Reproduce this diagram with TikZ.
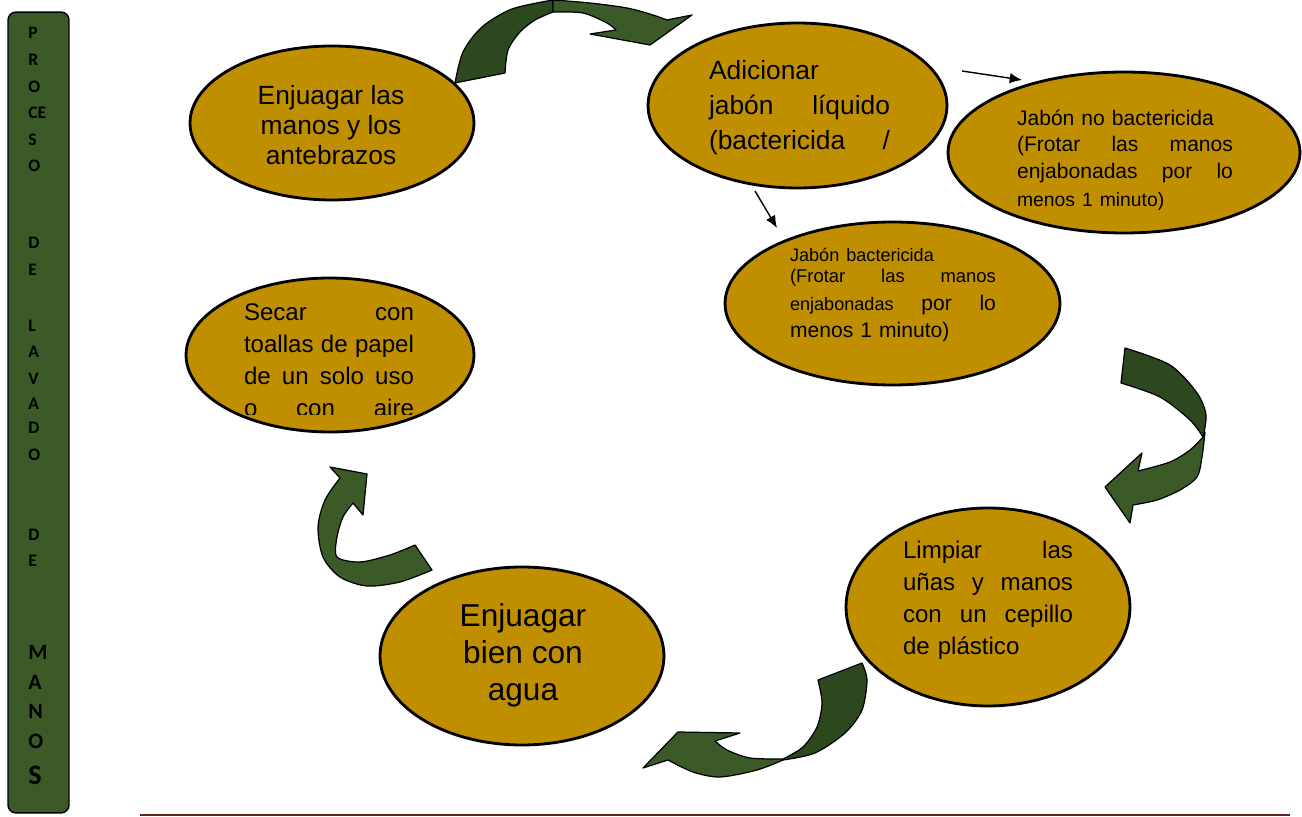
\documentclass[tikz,border=0pt]{standalone}
\usepackage{fontspec}
\setmainfont{Liberation Sans}
\newfontfamily\barfont{Carlito}
\usepackage{xcolor}
\usepackage{tikz}
\usetikzlibrary{positioning,arrows.meta,shapes.geometric}
\definecolor{oro}{HTML}{BF8F00}
\definecolor{verde}{HTML}{3B5A27}
\definecolor{verdeosc}{HTML}{2D481F}
\definecolor{vino}{HTML}{622423}

\begin{document}
\begin{tikzpicture}[x=0.02cm, y=-0.02cm,
  elip/.style={ellipse, draw=black, line width=1.6pt, fill=oro, inner sep=0pt},
  txt/.style={inner sep=0pt, align=left, text=black},
  letra/.style={anchor=west, inner sep=0pt, font=\barfont\bfseries\fontsize{10}{10}\selectfont},
  cinta/.style={fill=verde, draw=black, line width=0.7pt, line join=round},
  cintaosc/.style={cinta, fill=verdeosc},
  arr/.style={-{Latex[length=7pt,width=6pt]}, line width=0.8pt}]
\useasboundingbox (0,0) rectangle (1302,817);
% side bar
\node[draw=black, line width=0.8pt, fill=verde, rounded corners=4.5pt, inner sep=0pt,
  minimum width=1.22cm, minimum height=16.02cm] (barra) at (38.5,412.5) {};
\foreach \l/\y in {P/33,R/60,O/87,CE/113,S/140,O/166,D/243,E/270,L/326,A/352,V/379,A/404,D/428,O/455,D/535,E/561}
  \node[letra] (l\y) at (28,\y) {\l};
\foreach \l/\y in {M/652,A/682,N/711,O/741}
  \node[letra, font=\barfont\bfseries\fontsize{12.5}{12}\selectfont] (l\y) at (28,\y) {\l};
\node[letra, font=\barfont\bfseries\fontsize{16}{16}\selectfont] (l775) at (28,775) {S};
% curved arrows
\filldraw[cintaosc] plot[smooth] coordinates {(455,83) (463,52) (482,27) (512,9) (553,0)}
  -- plot[smooth] coordinates {(553,12) (535,20) (520,32) (508,50) (505,73)} -- cycle;
\filldraw[cinta] plot[smooth] coordinates {(553,0) (590,3) (627,8) (653,15) (667,20)}
  -- (692,15) -- (650,45) -- (590,34) -- (616,30)
  -- plot[smooth] coordinates {(616,30) (607,23) (583,13) (553,12)} -- cycle;
\filldraw[cintaosc] plot[smooth] coordinates {(1125,348) (1170,365) (1197,393) (1206,415) (1203,437)}
  -- plot[smooth] coordinates {(1203,437) (1190,420) (1160,397) (1121,383)} -- cycle;
\filldraw[cinta] plot[smooth] coordinates {(1203,437) (1190,450) (1170,462) (1138,471)}
  -- (1142,453) -- (1105,487) -- (1130,523) -- (1133,505)
  -- plot[smooth] coordinates {(1133,505) (1157,500) (1180,490) (1197,477) (1202,457) (1205,432)} -- cycle;
\filldraw[cintaosc] (818,680) -- (862,663)
  -- plot[smooth] coordinates {(862,663) (867,680) (862,710) (845,733) (815,753) (783,760)}
  -- plot[smooth] coordinates {(783,759) (803,747) (817,727) (822,703) (818,680)} -- cycle;
\filldraw[cinta] plot[smooth] coordinates {(783,759) (750,758) (727,750) (715,741)}
  -- (740,733) -- (678,732) -- (643,768) -- (668,760)
  -- plot[smooth] coordinates {(668,760) (693,772) (720,777) (757,770) (783,760)} -- cycle;
\filldraw[cinta] (340,478) -- (330,467) -- (367,474) -- (363,515) -- (353,503)
  -- plot[smooth] coordinates {(353,503) (343,517) (337,537) (337,557) (360,562) (390,555) (415,545)}
  -- (432,570)
  -- plot[smooth] coordinates {(432,570) (400,582) (367,586) (340,577) (323,557) (318,527) (325,500) (340,478)} -- cycle;
% ellipses
\node[elip, minimum width=5.68cm, minimum height=3.08cm] (enjmanos) at (332,123) {};
\node[elip, minimum width=5.98cm, minimum height=3.3cm] (adic) at (797.5,105.5) {};
\node[elip, minimum width=6.7cm, minimum height=3.26cm] (bact) at (892.5,303.5) {};
\node[elip, minimum width=7.04cm, minimum height=3.22cm] (nobact) at (1124,152.5) {};
\node[elip, minimum width=5.68cm, minimum height=3.96cm] (limpiar) at (988,607) {};
\node[elip, minimum width=5.68cm, minimum height=3.56cm] (enjagua) at (522,656) {};
\node[elip, minimum width=5.76cm, minimum height=3.08cm] (secar) at (330,355) {};
% texts
\node[txt, align=center, font=\fontsize{15}{17}\selectfont] (tenjmanos) at (331,125)
  {Enjuagar las\\ manos y los\\ antebrazos};
\node[txt, text width=3.62cm, font=\fontsize{15}{20}\selectfont] (tadic) at (799.5,108)
  {Adicionar\\ jabón\hfill líquido\\ (bactericida\hfill /};
\node[txt, text width=4.32cm, font=\fontsize{12}{15}\selectfont] (tnobact) at (1125,160)
  {Jabón no bactericida\\ (Frotar\hfill las\hfill manos\\ enjabonadas\hfill por\hfill lo\\[1pt]
   {\fontsize{11}{13}\selectfont menos 1 minuto)}};
\node[txt, text width=4.12cm, font=\fontsize{12}{15.4}\selectfont] (tbact) at (893,295)
  {{\fontsize{10.3}{12}\selectfont Jabón bactericida}\\[-3.4pt]
   {\fontsize{10.5}{12}\selectfont (Frotar\hfill las\hfill manos}\\
   {\fontsize{10.3}{12}\selectfont enjabonadas}\hfill por\hfill lo\\ menos 1 minuto)};
\node[txt, text width=3.4cm, font=\fontsize{13.7}{18.2}\selectfont] (tlimpiar) at (988,600)
  {Limpiar\hfill las\\ uñas\hfill y\hfill manos\\ con\hfill un\hfill cepillo\\ de plástico};
\node[txt, align=center, font=\fontsize{18}{21}\selectfont] (tenjagua) at (523,655)
  {Enjuagar\\ bien con\\ agua};
\begin{scope}
  \clip (200,290) rectangle (470,415);
  \node[txt, text width=3.4cm, font=\fontsize{13.7}{18.2}\selectfont] (tsecar) at (329,360)
    {Secar\hfill con\\ toallas\hfill de\hfill papel\\ de\hfill un\hfill solo\hfill uso\\ o\hfill con\hfill aire};
\end{scope}
% small arrows to the two kinds of soap
\coordinate (fa1) at (962,71);
\coordinate (fa2) at (1022,80);
\coordinate (fb1) at (755,191);
\coordinate (fb2) at (777,228);
\draw[arr] (fa1) -- (fa2);
\draw[arr] (fb1) -- (fb2);
% rule at the foot
\draw[vino, line width=1.2pt] (140,815) -- (1290,815);
\end{tikzpicture}
\end{document}
